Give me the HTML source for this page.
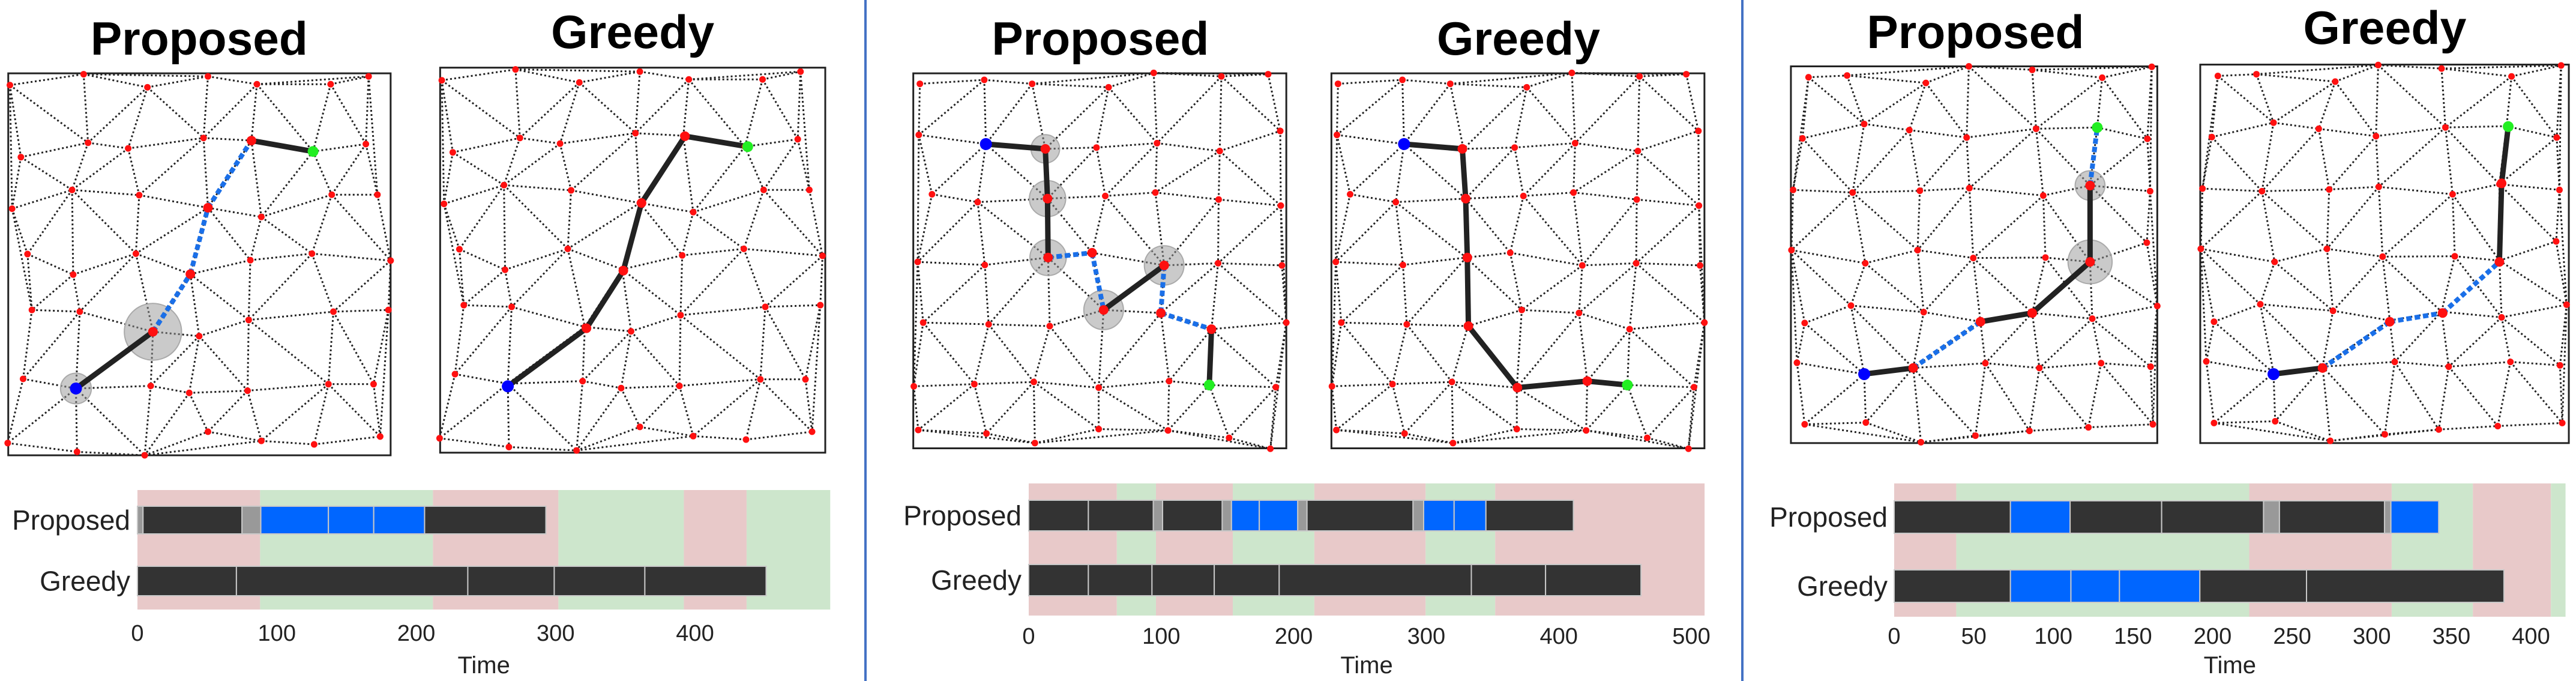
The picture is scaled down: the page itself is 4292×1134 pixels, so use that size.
<!DOCTYPE html>
<html><head><meta charset="utf-8">
<style>
html,body{margin:0;padding:0;background:#fff;}
svg{display:block;}
text{font-family:"Liberation Sans",Arial,sans-serif;}
</style></head>
<body>
<svg id="fig" width="4292" height="1134" viewBox="0 0 4292 1134" xmlns="http://www.w3.org/2000/svg">
<rect width="4292" height="1134" fill="#fff"/>
<line x1="1442" y1="0" x2="1442" y2="1134" stroke="#4472C4" stroke-width="4"/>
<line x1="2903" y1="0" x2="2903" y2="1134" stroke="#4472C4" stroke-width="4"/>
<g id="layer"></g>
</svg>
<script>
// ---------- Timeline data (time units) ----------
const t1Bg = [[0,88,'p'],[88,212,'g'],[212,302,'p'],[302,392,'g'],[392,437,'p'],[437,497,'g']];
const t1Prop = [[0,4,'gray'],[4,75,'k'],[75,88.5,'gray'],[88.5,137,'b'],[137,169.5,'b'],[169.5,206,'b'],[206,293,'k']];
const t1Greedy = [[0,71,'k'],[71,237,'k'],[237,299,'k'],[299,364,'k'],[364,451,'k']];
const t1Ticks = [0,100,200,300,400];

const t2Bg = [[0,66.5,'p'],[66.5,96,'g'],[96,154,'p'],[154,215.5,'g'],[215.5,299.5,'p'],[299.5,352,'g'],[352,510,'p']];
const t2Prop = [[0,45,'k'],[45,94,'k'],[94,101,'gray'],[101,146,'k'],[146,153,'gray'],[153,174,'b'],[174,203,'b'],[203,210,'gray'],[210,290,'k'],[290,298,'gray'],[298,321,'b'],[321,345,'b'],[345,411,'k']];
const t2Greedy = [[0,45,'k'],[45,93,'k'],[93,140,'k'],[140,189,'k'],[189,334,'k'],[334,390,'k'],[390,462,'k']];
const t2Ticks = [0,100,200,300,400,500];

const t3Bg = [[0,39,'p'],[39,223,'g'],[223,312.5,'p'],[312.5,363.5,'g'],[363.5,412.5,'p'],[412.5,421.7,'g']];
const t3Prop = [[0,73,'k'],[73,110.5,'b'],[110.5,168,'k'],[168,232,'k'],[232,242,'gray'],[242,308,'k'],[308,312,'gray'],[312,342,'b']];
const t3Greedy = [[0,73,'k'],[73,111,'b'],[111,141.5,'b'],[141.5,192,'b'],[192,259,'k'],[259,383,'k']];
const t3Ticks = [0,50,100,150,200,250,300,350,400];

// ---------- Mesh nodes (read in zoom-display coordinates) ----------
const mesh1 = [[18,195],[152,170],[268,200],[378,175],[467,193],[601,193],[670,175],
[38,360],[160,327],[233,340],[370,316],[457,322],[569,347],[665,330],
[22,478],[131,435],[253,447],[378,476],[475,497],[603,446],[686,446],
[50,582],[133,629],[247,581],[346,628],[455,596],[567,581],[710,597],
[58,710],[145,714],[278,760],[362,770],[452,733],[606,714],[706,710],
[42,868],[138,890],[274,884],[344,900],[450,895],[597,880],[679,880],
[14,1015],[140,1035],[263,1043],[378,989],[475,1010],[571,1018],[691,1000]];
const mesh2 = [[112,192],[229,183],[316,192],[455,200],[537,167],[660,175],[745,170],
[110,309],[232,330],[340,341],[433,338],[543,328],[657,346],[767,300],
[134,445],[217,463],[344,455],[449,449],[540,441],[655,457],[768,471],
[108,600],[230,607],[345,590],[425,579],[556,608],[654,603],[770,608],
[118,739],[237,743],[348,747],[446,710],[550,717],[642,754],[778,739],
[101,885],[211,880],[319,875],[437,888],[565,873],[638,882],[759,887],
[109,985],[233,993],[321,1015],[437,983],[563,986],[674,1003],[749,1028]];
const mesh3 = [[167,177],[237,173],[380,190],[458,152],[573,160],[700,178],[790,153],
[156,317],[268,284],[350,298],[454,315],[580,295],[691,292],[782,318],
[139,435],[247,441],[369,437],[459,431],[593,448],[678,425],[787,438],
[136,573],[270,603],[365,573],[466,591],[597,590],[678,600],[781,556],
[160,740],[244,700],[376,715],[479,737],[573,717],[682,730],[800,701],
[146,831],[268,857],[357,843],[488,832],[586,843],[698,832],[788,840],
[160,972],[271,968],[371,1013],[470,998],[568,987],[675,979],[792,972]];

const p1Prop = {pts:[[138,890],[278,760],[346,628],[378,476],[457,322],[569,347]], seg:['s','d','d','d','s'], circ:[[138,890,28],[278,760,52]]};
const p1Greedy = {pts:[[923,885],[1066,752],[1133,620],[1166,465],[1245,312],[1359,336]], seg:['s','s','s','s','s'], circ:[]};
const p2Prop = {pts:[[232,330],[340,341],[344,455],[345,590],[425,579],[446,710],[556,608],[550,717],[642,754],[638,882]], seg:['s','s','s','d','d','s','d','d','s'], circ:[[340,341,26],[344,455,33],[345,590,33],[446,710,36],[556,608,36]]};
const p2Greedy = {pts:[[992,330],[1098,341],[1104,455],[1107,590],[1109,747],[1198,888],[1325,873],[1398,882]], seg:['s','s','s','s','s','s','s'], circ:[]};
const p3Prop = {pts:[[268,857],[357,843],[479,737],[573,717],[678,600],[678,425],[691,292]], seg:['s','d','s','s','s','d'], circ:[[678,425,27],[678,600,40]]};
const p3Greedy = {pts:[[1011,857],[1100,843],[1222,737],[1318,717],[1421,600],[1425,420],[1437,290]], seg:['s','d','d','d','s','s'], circ:[]};

const NS='http://www.w3.org/2000/svg';
const layer=document.getElementById('layer');
function mk(tag,attrs,parent){const e=document.createElementNS(NS,tag);for(const k in attrs)e.setAttribute(k,attrs[k]);(parent||layer).appendChild(e);return e;}

function delaunay(pts){
  const P=pts.map(p=>[p[0],p[1]]);
  const n=P.length;
  P.push([-1e5,-1e5],[1e5,-1e5],[0,1e5]);
  let tris=[[n,n+1,n+2]];
  function cc(t){const [a,b,c]=t.map(i=>P[i]);const d=2*(a[0]*(b[1]-c[1])+b[0]*(c[1]-a[1])+c[0]*(a[1]-b[1]));
    const ux=((a[0]**2+a[1]**2)*(b[1]-c[1])+(b[0]**2+b[1]**2)*(c[1]-a[1])+(c[0]**2+c[1]**2)*(a[1]-b[1]))/d;
    const uy=((a[0]**2+a[1]**2)*(c[0]-b[0])+(b[0]**2+b[1]**2)*(a[0]-c[0])+(c[0]**2+c[1]**2)*(b[0]-a[0]))/d;
    return [ux,uy,(a[0]-ux)**2+(a[1]-uy)**2];}
  for(let i=0;i<n;i++){
    const p=P[i];const bad=[],good=[];
    for(const t of tris){const c=cc(t);((p[0]-c[0])**2+(p[1]-c[1])**2<c[2])?bad.push(t):good.push(t);}
    const ec={};
    for(const t of bad)for(let k=0;k<3;k++){const a=t[k],b=t[(k+1)%3];const key=a<b?a+'_'+b:b+'_'+a;ec[key]=(ec[key]||0)+1;}
    tris=good;
    for(const key in ec)if(ec[key]===1){const [a,b]=key.split('_').map(Number);tris.push([a,b,i]);}
  }
  const edges={};
  for(const t of tris){if(t.some(i=>i>=n))continue;for(let k=0;k<3;k++){const a=t[k],b=t[(k+1)%3];edges[a<b?a+'_'+b:b+'_'+a]=[Math.min(a,b),Math.max(a,b)];}}
  return Object.values(edges);
}

function drawMeshPanel(name,zx,s,box,mesh,dx,dy,path,title,tx,ty){
  const X=v=>zx+v/s, Y=v=>v/1.3757;
  const g=mk('g',{});
  
  
  const t=mk('text',{x:X(tx),y:ty,'font-size':78,'font-weight':'bold','text-anchor':'middle',textLength:(name.indexOf('greedy')>=0?272:362),lengthAdjust:'spacingAndGlyphs',fill:'#000'},g);
  t.textContent=title;
  
  
  const r=mk('rect',{x:X(box[0]),y:Y(box[1]),width:(box[2]-box[0])/s,height:(box[3]-box[1])/1.3757,fill:'#fff',stroke:'#222','stroke-width':3},g);
  
  
  const pts=mesh.map(p=>[X(p[0]+dx),Y(p[1]+dy)]);
  const eg=mk('g',{stroke:'#222','stroke-width':3,'stroke-dasharray':'3 4',fill:'none'},g);
  
  
  for(const [a,b] of delaunay(pts)){
    const dxx=pts[a][0]-pts[b][0],dyy=pts[a][1]-pts[b][1];
    if(Math.hypot(dxx,dyy)>260)continue;
    mk('line',{x1:pts[a][0],y1:pts[a][1],x2:pts[b][0],y2:pts[b][1]},eg);
  }
  for(const c of path.circ){
    const e=mk('ellipse',{cx:X(c[0]),cy:Y(c[1]),rx:c[2]/s,ry:c[2]/1.3757*1.25,fill:'rgba(150,150,150,0.5)',stroke:'#aaa','stroke-width':2},g);
    
    
  }
  for(let i=0;i<path.seg.length;i++){
    const a=path.pts[i],b=path.pts[i+1];
    const solid=path.seg[i]==='s';
    const l=mk('line',{x1:X(a[0]),y1:Y(a[1]),x2:X(b[0]),y2:Y(b[1]),stroke:solid?'#222':'#1a6fe8','stroke-width':solid?9:8,'stroke-dasharray':solid?'none':'9 5'},g);
    
    
  }
  for(const p of pts){
    const c=mk('circle',{cx:p[0],cy:p[1],r:5.5,fill:'#ff1010'},g);
    
    
  }
  for(let i=1;i<path.pts.length-1;i++){
    const c=mk('circle',{cx:X(path.pts[i][0]),cy:Y(path.pts[i][1]),r:8,fill:'#ff1010'},g);
    
    
  }
  const st=path.pts[0],en=path.pts[path.pts.length-1];
  const sc=mk('circle',{cx:X(st[0]),cy:Y(st[1]),r:10,fill:'#0000ff'},g);
  
  
  const ec2=mk('circle',{cx:X(en[0]),cy:Y(en[1]),r:9,fill:'#22ee22'},g);
  
  
}

drawMeshPanel('panel-1-proposed',0,1.0909,[15,168,710,1043],mesh1,0,0,p1Prop,'Proposed',362,91);
drawMeshPanel('panel-1-greedy',0,1.0909,[800,155,1500,1037],mesh1,785,-11,p1Greedy,'Greedy',1150,80);
drawMeshPanel('panel-2-proposed',1430,1.0909,[100,168,778,1027],mesh2,0,0,p2Prop,'Proposed',440,91);
drawMeshPanel('panel-2-greedy',1430,1.0909,[860,168,1538,1027],mesh2,760,0,p2Greedy,'Greedy',1200,91);
drawMeshPanel('panel-3-proposed',2860,1.0894,[135,152,800,1015],mesh3,0,0,p3Prop,'Proposed',470,80);
drawMeshPanel('panel-3-greedy',2860,1.0894,[878,148,1547,1015],mesh3,743,-3,p3Greedy,'Greedy',1213,73);

const COL={k:'#333333',b:'#0066ff',gray:'#999999',p:'#e8c9c9',g:'#cde6cc'};
function drawTimeline(name,x0,x400,bgMax,bg,prop,greedy,ticks,yb,yP,yG,labelRight,tickY){
  const xs=v=>x0+v*(x400-x0)/400;
  const g=mk('g',{});
  
  
  for(const b of bg){
    const r=mk('rect',{x:xs(b[0]),y:yb[0],width:xs(b[1])-xs(b[0]),height:yb[1]-yb[0],fill:COL[b[2]]},g);
    
    
  }
  const rows=[[prop,yP,'proposed'],[greedy,yG,'greedy']];
  for(const [segs,yy,nm] of rows){
    for(const s of segs){
      const r=mk('rect',{x:xs(s[0]),y:yy[0],width:Math.max(1,xs(s[1])-xs(s[0])),height:yy[1]-yy[0],fill:COL[s[2]],stroke:'#c8c8c8','stroke-width':2},g);
      
      
    }
  }
  const l1=mk('text',{x:labelRight,y:(yP[0]+yP[1])/2+16,'font-size':46,'text-anchor':'end',fill:'#222'},g);
  l1.textContent='Proposed';
  
  
  const l2=mk('text',{x:labelRight,y:(yG[0]+yG[1])/2+16,'font-size':46,'text-anchor':'end',fill:'#222'},g);
  l2.textContent='Greedy';
  
  
  for(const t of ticks){
    const tt=mk('text',{x:xs(t),y:tickY,'font-size':38,'text-anchor':'middle',fill:'#222'},g);
    tt.textContent=String(t);
    
    
  }
  const ti=mk('text',{x:(xs(0)+xs(bgMax))/2,y:1121,'font-size':40,'text-anchor':'middle',fill:'#222'},g);
  ti.textContent='Time';
  
  
}
drawTimeline('timeline-1',229,1158,497,t1Bg,t1Prop,t1Greedy,t1Ticks,[816,1015],[843,889],[943,992],217,1067);
drawTimeline('timeline-2',1714,1714+1104*0.8,510,t2Bg,t2Prop,t2Greedy,t2Ticks,[805,1025],[833,884],[940,992],1702,1072);
drawTimeline('timeline-3',3156,4217,421.7,t3Bg,t3Prop,t3Greedy,t3Ticks,[805,1027],[834,888],[949,1003],3145,1072);
</script>
</body></html>
